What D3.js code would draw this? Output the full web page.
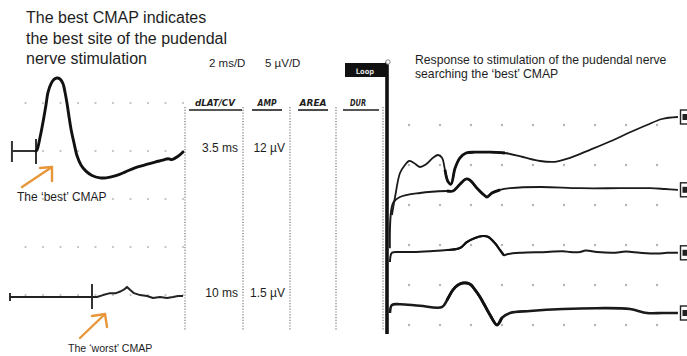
<!DOCTYPE html>
<html><head><meta charset="utf-8">
<script src="https://cdn.jsdelivr.net/npm/d3@7"></script>
<style>html,body{margin:0;padding:0;background:#fff;}svg{display:block}</style>
</head><body><svg id="c" width="687" height="356"></svg>
<script>
// ---------------- DATA ----------------
const titleLines = ["The best CMAP indicates", "the best site of the pudendal", "nerve stimulation"];
const sweepLabels = ["2 ms/D", "5 \u00b5V/D"];
const measureHeaders = ["dLAT/CV", "AMP", "AREA", "DUR"];
const cmapNames = ["The \u2018best\u2019 CMAP", "The \u2018worst\u2019 CMAP"];
const cmapLatency = ["3.5 ms", "10 ms"];
const cmapAmplitude = ["12 \u00b5V", "1.5 \u00b5V"];
const searchTitle = ["Response to stimulation of the pudendal nerve", "searching the \u2018best\u2019 CMAP"];
const loopLabel = "Loop";

// stimulus artefact (ms) for best / worst sweeps
const stimOnMs = [0.45, 0.23];
const stimOffMs = [3.2, 9.6];

// best CMAP (ms, µV)
const bestTimeMs = [3.31, 3.66, 4.0, 4.34, 4.57, 4.91, 5.26, 5.6, 5.94, 6.29, 6.51, 6.74, 6.97, 7.2, 7.54, 7.89, 8.34, 8.91, 9.6, 10.51, 11.2, 12.23, 13.37, 14.51, 15.66, 16.8, 17.71, 18.29, 18.74, 19.43, 20.0];
const bestAmpUv  = [0.1, 1.4, 3.0, 4.8, 6.1, 7.0, 7.45, 7.6, 7.5, 7.0, 6.15, 5.0, 3.6, 2.3, 0.85, -0.5, -1.45, -2.1, -2.55, -2.8, -2.8, -2.6, -2.2, -1.75, -1.45, -1.15, -0.95, -0.8, -0.9, -0.55, -0.1];

// worst CMAP (ms, µV)
const worstTimeMs = [0.23, 4.8, 9.6, 10.17, 10.86, 11.66, 12.34, 12.91, 13.37, 13.6, 13.94, 14.4, 15.09, 15.89, 16.57, 17.37, 18.17, 18.86, 19.43, 20.0];
const worstAmpUv  = [0, 0, 0, 0, 0.2, 0.4, 0.4, 0.6, 0.85, 1.05, 0.75, 0.4, 0.2, 0.1, -0.1, 0, -0.1, 0, 0.1, 0.1];

// four search sweeps (ms, µV)
const sweep1TimeMs = [0.9, 1.1, 1.42, 1.74, 2.0, 2.32, 2.71, 3.1, 3.55, 3.87, 4.13, 4.32, 4.52, 4.71, 4.97, 5.29, 5.68, 6.26, 7.23, 8.19, 9.35, 10.45, 11.42, 12.39, 13.68, 15.16, 16.26, 17.35, 18.32, 19.35];
const sweep1AmpUv  = [-2.25, 0, 3.0, 4.0, 4.5, 4.25, 3.75, 4.1, 4.9, 5.25, 4.9, 3.4, 1.9, 1.6, 3.6, 4.9, 5.5, 5.6, 5.6, 5.5, 5.0, 4.5, 4.4, 4.9, 5.9, 7.1, 8.1, 9.0, 9.75, 10.0];
const sweep2TimeMs = [0.77, 0.97, 1.42, 2.71, 4.45, 4.84, 5.29, 5.68, 5.94, 6.39, 6.84, 7.03, 7.35, 7.87, 8.52, 10.45, 13.03, 15.61, 17.55, 18.52, 19.35];
const sweep2AmpUv  = [-6.4, -0.75, 0, 0.5, 0.75, 0.75, 1.6, 2.25, 2.1, 1.1, 0.25, 0, 0.5, 0.9, 1.1, 1.25, 1.1, 1.1, 1.1, 1.0, 0.9];
const sweep3TimeMs = [0.77, 0.9, 1.42, 2.26, 3.35, 4.45, 5.29, 5.74, 6.26, 6.77, 7.1, 7.55, 7.87, 8.13, 8.39, 9.16, 10.9, 11.94, 12.39, 13.03, 13.4, 14.13, 15.16, 16.0, 16.9, 18.0, 18.65, 19.35];
const sweep3AmpUv  = [-1.25, -0.1, 0, 0, 0.1, 0.25, 0.5, 1.25, 1.75, 2.0, 1.9, 1.1, 0.25, -0.4, -0.25, -0.1, 0, 0.1, 0, 0, 0.2, 0, -0.1, 0.05, -0.1, -0.2, -0.1, -0.1];
const sweep4TimeMs = [0.77, 0.9, 1.42, 2.71, 4.13, 4.45, 4.84, 5.16, 5.48, 5.94, 6.26, 6.58, 6.9, 7.23, 7.68, 8.0, 8.52, 9.81, 11.94, 14.13, 16.26, 17.35, 18.39, 19.35];
const sweep4AmpUv  = [-1.0, 0, 0.1, -0.1, -0.25, 0.6, 1.9, 2.5, 2.75, 2.6, 1.9, 1.0, -0.1, -1.25, -2.5, -1.6, -1.0, -0.75, -0.5, -0.4, -0.5, -1.0, -1.0, -1.0];

// grid (ms, µV)
const gridLeftMs = [2, 4, 6, 8, 10, 12, 14, 16, 18, 20];
const gridLeftUv = [5, 0, -5, -10, -15];
const gridRightMs = [2, 4, 6, 8, 10, 12, 14, 16, 18];
const gridRightUv = [10, 5, 0, -5, -10, -15];

// ---------------- LAYOUT ----------------
const svg = d3.select("#c");
const FONT = "'Liberation Sans', Arial, Helvetica, sans-serif";
const INK = "#1e1e1e";
const ORANGE = "#e8963a";

const xL = d3.scaleLinear().domain([0, 20]).range([8, 183]);
const yGridL = d3.scaleLinear().domain([0, 5]).range([151, 103]);
const yBest = d3.scaleLinear().domain([0, 5]).range([151, 103]);
const yWorst = d3.scaleLinear().domain([0, 5]).range([297, 249]);

const xR = d3.scaleLinear().domain([0, 20]).range([378, 688]);
const yGridR = d3.scaleLinear().domain([0, 5]).range([205, 165]);
const sweepBase = [197, 197, 252, 305];
const ySweep = sweepBase.map(b => d3.scaleLinear().domain([0, 5]).range([b, b - 40]));

// grid dots
const gL = svg.append("g");
gridLeftUv.forEach(v => gridLeftMs.forEach(t => {
  gL.append("circle").attr("cx", xL(t)).attr("cy", yGridL(v)).attr("r", 1.1).attr("fill", "#bdbdbd");
}));
const gR = svg.append("g");
gridRightUv.forEach(v => gridRightMs.forEach(t => {
  gR.append("circle").attr("cx", xR(t)).attr("cy", yGridR(v)).attr("r", 1.2).attr("fill", "#b5b5b5");
}));

// measurement panel dotted dividers
[185, 243, 290, 336, 383].forEach(x => {
  svg.append("line").attr("x1", x).attr("x2", x).attr("y1", 107).attr("y2", 331)
    .attr("stroke", "#9a9a9a").attr("stroke-width", 1.6).attr("stroke-dasharray", "1.2,1.6");
});

// headers
const hdr = [
  {cx: 215, w: 40, u: [189, 242]},
  {cx: 267, w: 19, u: [252, 282]},
  {cx: 313, w: 27, u: [298, 328]},
  {cx: 358, w: 16, u: [343, 379]}
];
measureHeaders.forEach((h, i) => {
  const d = hdr[i];
  svg.append("text").attr("x", d.cx).attr("y", 106).attr("text-anchor", "middle")
    .attr("font-family", "'DejaVu Sans Condensed', 'DejaVu Sans', sans-serif").attr("font-weight", "bold")
    .attr("font-style", "italic").attr("font-size", 9.5).attr("fill", INK)
    .attr("textLength", d.w).attr("lengthAdjust", "spacingAndGlyphs").text(h);
  svg.append("line").attr("x1", d.u[0]).attr("x2", d.u[1]).attr("y1", 110).attr("y2", 110)
    .attr("stroke", INK).attr("stroke-width", 1.6);
});

// measured values
[152, 297].forEach((y, i) => {
  svg.append("text").attr("x", 238).attr("y", y).attr("text-anchor", "end")
    .attr("font-family", FONT).attr("font-size", 12).attr("fill", INK).text(cmapLatency[i]);
  svg.append("text").attr("x", 285).attr("y", y).attr("text-anchor", "end")
    .attr("font-family", FONT).attr("font-size", 12).attr("fill", INK).text(cmapAmplitude[i]);
});

// title
titleLines.forEach((t, i) => {
  svg.append("text").attr("x", 26).attr("y", 23 + i * 20.5).attr("font-family", FONT)
    .attr("font-size", 16).attr("fill", INK).text(t);
});
// sweep settings
svg.append("text").attr("x", 209).attr("y", 67).attr("font-family", FONT).attr("font-size", 11.5).attr("fill", INK).text(sweepLabels[0]);
svg.append("text").attr("x", 265).attr("y", 67).attr("font-family", FONT).attr("font-size", 11.5).attr("fill", INK).text(sweepLabels[1]);

// search title
searchTitle.forEach((t, i) => {
  svg.append("text").attr("x", 415).attr("y", 64 + i * 14).attr("font-family", FONT)
    .attr("font-size", 12.2).attr("fill", INK).text(t);
});

// Loop box and vertical sweep line
svg.append("rect").attr("x", 345).attr("y", 63).attr("width", 41).attr("height", 14).attr("fill", "#111");
svg.append("text").attr("x", 365).attr("y", 73.5).attr("text-anchor", "middle")
  .attr("font-family", "'DejaVu Sans Condensed', sans-serif").attr("font-weight", "bold")
  .attr("font-size", 7.5).attr("fill", "#ddd").text(loopLabel);
svg.append("line").attr("x1", 387).attr("x2", 387).attr("y1", 62).attr("y2", 334)
  .attr("stroke", "#111").attr("stroke-width", 3.6);
svg.append("circle").attr("cx", 388).attr("cy", 62).attr("r", 2.2).attr("fill", "#fff").attr("stroke", "#888").attr("stroke-width", 1);

// stimulus artefacts
function stim(x0, x1, y, tick0, tick1) {
  const g = svg.append("g").attr("stroke", "#333").attr("stroke-width", 2).attr("fill", "none");
  g.append("line").attr("x1", x0).attr("x2", x1).attr("y1", y).attr("y2", y);
  g.append("line").attr("x1", x0).attr("x2", x0).attr("y1", y - tick0[0]).attr("y2", y + tick0[1]);
  g.append("line").attr("x1", x1).attr("x2", x1).attr("y1", y - tick1[0]).attr("y2", y + tick1[1]);
}
stim(xL(stimOnMs[0]), xL(stimOffMs[0]), yBest(0), [10, 11], [12, 13]);
stim(xL(stimOnMs[1]), xL(stimOffMs[1]), yWorst(0), [4, 4], [13, 12]);

// traces
const lineOf = (xs, ys, curve) => d3.line().x(d => xs(d[0])).y(d => ys(d[1])).curve(curve);
const zip = (a, b) => a.map((v, i) => [v, b[i]]);

svg.append("path").datum([[stimOffMs[0], 0]].concat(zip(bestTimeMs, bestAmpUv)))
  .attr("d", lineOf(xL, yBest, d3.curveCatmullRom.alpha(0.5)))
  .attr("fill", "none").attr("stroke", "#111").attr("stroke-width", 2.9).attr("stroke-linejoin", "round").attr("stroke-linecap", "round");

svg.append("path").datum(zip(worstTimeMs, worstAmpUv))
  .attr("d", lineOf(xL, yWorst, d3.curveLinear))
  .attr("fill", "none").attr("stroke", "#222").attr("stroke-width", 2).attr("stroke-linejoin", "round");

const sweeps = [
  zip(sweep1TimeMs, sweep1AmpUv), zip(sweep2TimeMs, sweep2AmpUv),
  zip(sweep3TimeMs, sweep3AmpUv), zip(sweep4TimeMs, sweep4AmpUv)
];
const sweepW = [1.8, 1.8, 2.0, 2.6];
sweeps.forEach((s, i) => {
  svg.append("path").datum(s).attr("d", lineOf(xR, ySweep[i], d3.curveCatmullRom.alpha(0.5)))
    .attr("fill", "none").attr("stroke", "#1a1a1a").attr("stroke-width", sweepW[i]).attr("stroke-linejoin", "round");
  const emph = s.filter(d => d[0] >= 4.3 && d[0] <= 8.2);
  svg.append("path").datum(emph).attr("d", lineOf(xR, ySweep[i], d3.curveCatmullRom.alpha(0.5)))
    .attr("fill", "none").attr("stroke", "#111").attr("stroke-width", i === 2 ? 2.2 : 2.8).attr("stroke-linejoin", "round");
  const last = s[s.length - 1];
  const cy = ySweep[i](last[1]);
  svg.append("rect").attr("x", 680.5).attr("y", cy - 7).attr("width", 8).attr("height", 14)
    .attr("fill", "#fff").attr("stroke", "#222").attr("stroke-width", 1.4);
  svg.append("rect").attr("x", 682.5).attr("y", cy - 3).attr("width", 5).attr("height", 6).attr("fill", "#222");
});

// annotations (orange arrows)
function arrow(tail, head, a1, a2) {
  const g = svg.append("g").attr("stroke", ORANGE).attr("stroke-width", 2.4).attr("fill", "none")
    .attr("stroke-linecap", "round").attr("stroke-linejoin", "round");
  g.append("line").attr("x1", tail[0]).attr("y1", tail[1]).attr("x2", head[0]).attr("y2", head[1]);
  g.append("polyline").attr("points", [a1, head, a2].map(p => p.join(",")).join(" "));
}
arrow([22, 187], [52, 167], [40, 168], [52, 181]);
arrow([80, 338], [105, 314], [92, 316], [107, 327]);

svg.append("text").attr("x", 17).attr("y", 201).attr("font-family", FONT).attr("font-size", 12).attr("fill", INK).text(cmapNames[0]);
svg.append("text").attr("x", 68).attr("y", 352).attr("font-family", FONT).attr("font-size", 10.6).attr("fill", INK).text(cmapNames[1]);
</script></body></html>
